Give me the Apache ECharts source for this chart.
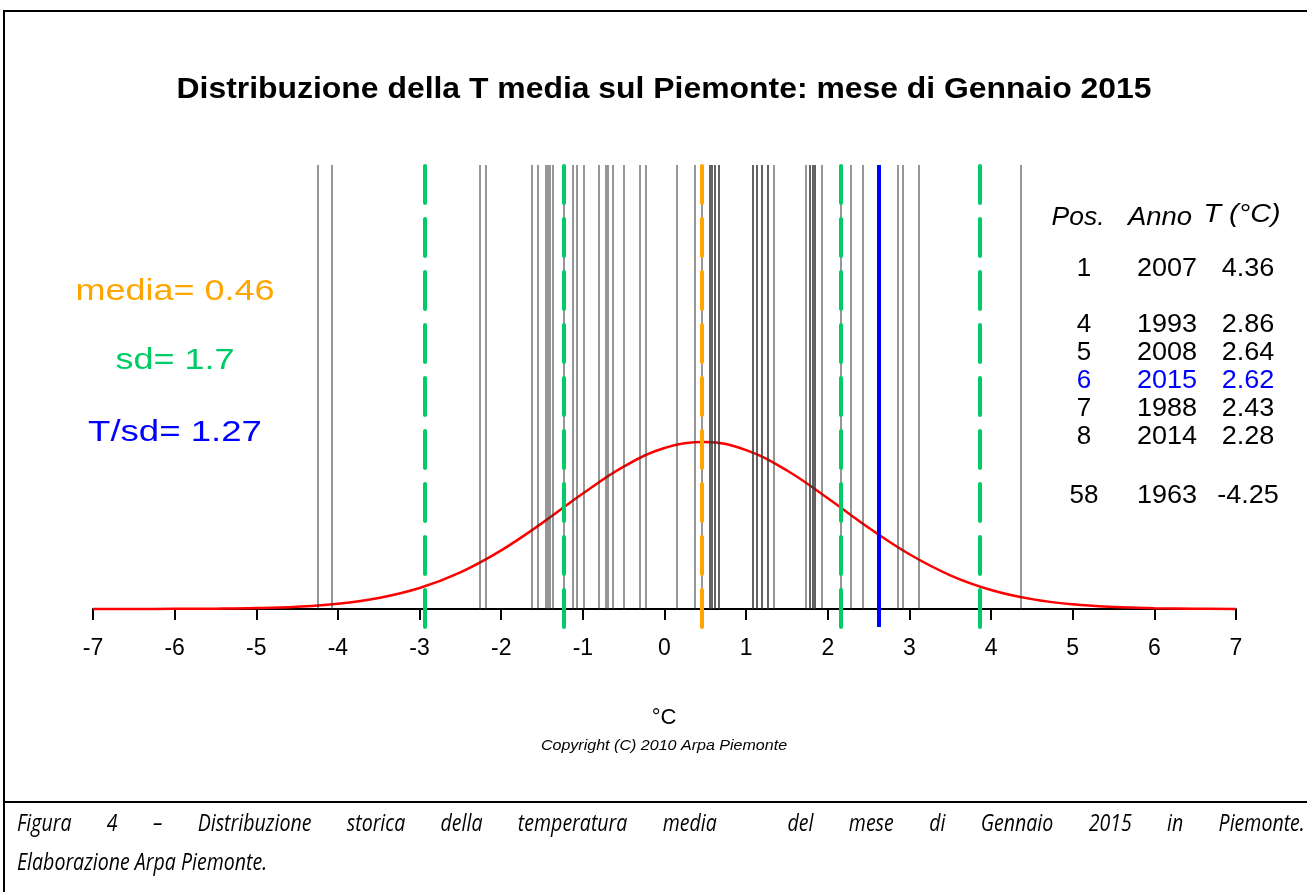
<!DOCTYPE html>
<html>
<head>
<meta charset="utf-8">
<script src="https://cdn.jsdelivr.net/npm/echarts@6/dist/echarts.min.js"></script>
<style>
html, body { margin: 0; padding: 0; background: #fff; }
#chart { position: absolute; left: 0; top: 0; width: 1307px; height: 892px; }
#caption { position: absolute; left: 17px; top: 803px; width: 1515px;
  transform: scaleX(0.85); transform-origin: 0 0;
  font-family: "Open Sans", sans-serif; font-style: italic;
  font-size: 23px; line-height: 39px; color: #000; }
#cap1 { text-align: justify; text-align-last: justify; }
</style>
</head>
<body>
<div id="chart"></div>
<div id="caption">
  <div id="cap1">Figura 4 – Distribuzione storica della temperatura media&nbsp; del mese di Gennaio 2015 in Piemonte.</div>
  <div id="cap2">Elaborazione Arpa Piemonte.</div>
</div>
<script>
// temperature medie di gennaio (una riga grigia per anno)
var tempAnni = [-4.25, -4.07, -2.26, -2.19, -1.63, -1.55, -1.46, -1.43, -1.41, -1.37,
    -1.24, -1.12, -1.08, -0.99, -0.81, -0.72, -0.70, -0.63, -0.50, -0.30, -0.23,
    0.15, 0.37, 0.46, 0.55, 0.55, 0.58, 0.58, 0.62, 0.62, 0.67, 0.67,
    1.08, 1.08, 1.13, 1.13, 1.19, 1.19, 1.26, 1.26, 1.34,
    1.73, 1.78, 1.78, 1.81, 1.81, 1.84, 1.84, 1.92, 2.16,
    2.28, 2.43, 2.62, 2.64, 2.86, 2.92, 3.12, 4.36];
var media = 0.46;
var sd = 1.7;
var tAnno = 2.62;
var lineeSd = [-2.94, -1.24, 2.16, 3.86];

// curva di densita'
var curvaX = [-7, -6.5, -6, -5.5, -5, -4.5, -4, -3.5, -3, -2.5, -2, -1.5, -1, -0.5, 0,
    0.5, 1, 1.5, 2, 2.5, 3, 3.5, 4, 4.5, 5, 5.5, 6, 6.5, 7];
var curvaY = [0.0000, 0.0001, 0.0002, 0.0005, 0.0013, 0.0033, 0.0075, 0.0156, 0.0296,
    0.0515, 0.0824, 0.1207, 0.1623, 0.2001, 0.2263, 0.2346, 0.2232, 0.1947, 0.1557,
    0.1142, 0.0769, 0.0474, 0.0268, 0.0139, 0.0066, 0.0029, 0.0012, 0.0004, 0.0001];

// tabella classifica
var tabPos = ['1', '4', '5', '6', '7', '8', '58'];
var tabAnno = ['2007', '1993', '2008', '2015', '1988', '2014', '1963'];
var tabT = ['4.36', '2.86', '2.64', '2.62', '2.43', '2.28', '-4.25'];
var tabY = [269, 325, 353, 381, 409, 437, 496];

var yTop = 0.624, yBot = -0.0253;
var font = '"Liberation Sans", Arial, sans-serif';

var curva = [];
for (var i = 0; i < curvaX.length; i++) curva.push([curvaX[i], curvaY[i]]);

var grigie = tempAnni.map(function (v) {
    return [{coord: [v, 0]}, {coord: [v, yTop]}];
});
var dashStyle = {type: [37, 16], width: 4, cap: 'round'};
var tratteggi = lineeSd.map(function (v) {
    return {xAxis: v, lineStyle: Object.assign({color: '#00CC66'}, dashStyle)};
});
tratteggi.push({xAxis: media, lineStyle: Object.assign({color: '#FFA500'}, dashStyle)});
tratteggi.push({xAxis: tAnno, lineStyle: {color: '#0000FF', width: 4, type: 'solid'}});

// testo centrato; sx = allargamento orizzontale
function testo(str, x, y, fnt, color, sx) {
    return {type: 'text', x: x, y: y, silent: true, scaleX: sx || 1,
        style: {text: str, fill: color || '#000', font: fnt,
            textAlign: 'center', textVerticalAlign: 'middle'}};
}

var graphics = [
    {type: 'line', shape: {x1: 3, y1: 11, x2: 1307, y2: 11}, style: {stroke: '#000', lineWidth: 2}},
    {type: 'line', shape: {x1: 4, y1: 10, x2: 4, y2: 892}, style: {stroke: '#000', lineWidth: 2}},
    {type: 'line', shape: {x1: 3, y1: 802, x2: 1307, y2: 802}, style: {stroke: '#000', lineWidth: 2}},
    testo('Distribuzione della T media sul Piemonte: mese di Gennaio 2015', 664, 90, 'bold 29px ' + font, '#000', 1.1),
    testo('media= 0.46', 175, 292, '30px ' + font, '#FFA500', 1.2),
    testo('sd= 1.7', 175, 361, '30px ' + font, '#00CC66', 1.2),
    testo('T/sd= 1.27', 175, 433, '30px ' + font, '#0000FF', 1.22),
    testo('Pos.', 1078, 218, 'italic 25px ' + font, '#000', 1.06),
    testo('Anno', 1160, 218, 'italic 25px ' + font, '#000', 1.1),
    testo('T (°C)', 1242, 215, 'italic 25px ' + font, '#000', 1.15),
    testo('°C', 664, 718, '22px ' + font),
    testo('Copyright (C) 2010 Arpa Piemonte', 664, 746, 'italic 15px ' + font, '#000', 1.07)
];
for (var r = 0; r < tabPos.length; r++) {
    var c = tabAnno[r] === '2015' ? '#0000FF' : '#000';
    graphics.push(testo(tabPos[r], 1084, tabY[r], '26px ' + font, c));
    graphics.push(testo(tabAnno[r], 1167, tabY[r], '26px ' + font, c, 1.04));
    graphics.push(testo(tabT[r], 1248, tabY[r], '26px ' + font, c, 1.04));
}

var chart = echarts.init(document.getElementById('chart'));
chart.setOption({
    animation: false,
    backgroundColor: '#fff',
    grid: {left: 93, right: 71, top: 165, bottom: 265, containLabel: false},
    xAxis: {
        type: 'value', min: -7, max: 7, interval: 1,
        axisLine: {onZero: true, lineStyle: {color: '#000', width: 2}},
        axisTick: {show: true, length: 11, lineStyle: {color: '#000', width: 2}},
        axisLabel: {color: '#000', fontSize: 23, fontFamily: font, margin: 10},
        splitLine: {show: false}
    },
    yAxis: {type: 'value', min: yBot, max: yTop, show: false},
    series: [
        {
            type: 'line', data: [], silent: true, z: 1,
            markLine: {symbol: ['none', 'none'], silent: true, label: {show: false},
                lineStyle: {color: 'rgba(50,50,50,0.68)', width: 1.5, type: 'solid'},
                data: grigie}
        },
        {
            type: 'line', data: curva, smooth: 0.4, showSymbol: false, silent: true, z: 2,
            lineStyle: {color: '#FF0000', width: 2.5}
        },
        {
            type: 'line', data: [], silent: true, z: 3,
            markLine: {symbol: ['none', 'none'], silent: true, label: {show: false},
                data: tratteggi}
        }
    ],
    graphic: graphics
});
</script>
</body>
</html>
